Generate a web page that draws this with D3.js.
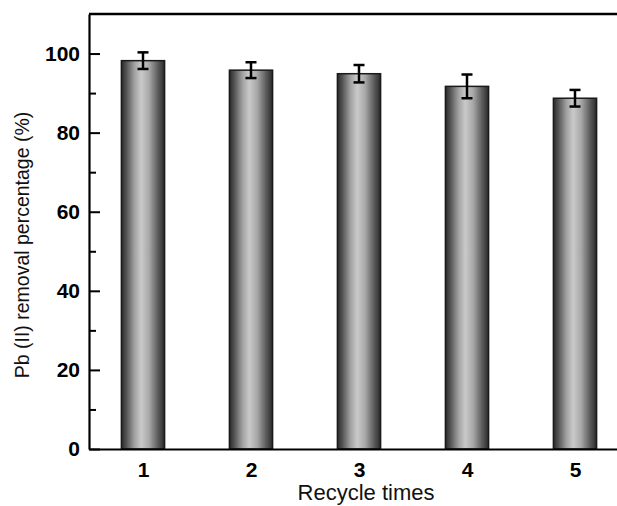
<!DOCTYPE html>
<html>
<head>
<meta charset="utf-8">
<script src="https://cdn.jsdelivr.net/npm/d3@7"></script>
<style>
  body { margin: 0; background: #fff; }
  svg { display: block; font-family: Arial, "Liberation Sans", sans-serif; }
</style>
</head>
<body>
<svg width="617" height="506"></svg>
<script>
// recycle runs and Pb(II) removal (%) with error
const cycles = [1, 2, 3, 4, 5];
const removal = [98.2, 95.8, 94.9, 91.7, 88.7];
const errors = [2.1, 2.0, 2.2, 3.0, 2.1];
const majorTicks = [0, 20, 40, 60, 80, 100];
const minorTicks = [10, 30, 50, 70, 90];

const svg = d3.select("svg");

const x = d3.scaleLinear().domain([0.5, 5.5]).range([89, 629]);
const y = d3.scaleLinear().domain([0, 110]).range([449, 14]);
const barW = x(1.2) - x(0.8);

// cylinder-like grey shading for bars
const grad = svg.append("defs").append("linearGradient")
    .attr("id", "barGrad")
    .attr("x1", "0%").attr("x2", "100%").attr("y1", "0%").attr("y2", "0%");
[["0%", "#2a2a2a"], ["12%", "#555"], ["30%", "#a0a0a0"], ["46%", "#cacaca"],
 ["64%", "#a8a8a8"], ["86%", "#585858"], ["100%", "#2a2a2a"]]
    .forEach(s => grad.append("stop").attr("offset", s[0]).attr("stop-color", s[1]));

const data = cycles.map((c, i) => ({ c: c, v: removal[i], e: errors[i] }));

// bars
svg.selectAll("rect.bar")
    .data(data)
    .enter()
    .append("rect")
    .attr("class", "bar")
    .attr("x", d => x(d.c) - barW / 2)
    .attr("width", barW)
    .attr("y", d => y(d.v))
    .attr("height", d => y(0) - y(d.v))
    .attr("fill", "url(#barGrad)")
    .attr("stroke", "#1a1a1a")
    .attr("stroke-width", 1.5);

// error bars
const eb = svg.selectAll("g.err")
    .data(data)
    .enter()
    .append("g")
    .attr("class", "err")
    .attr("stroke", "#000")
    .attr("stroke-width", 2.5);
eb.append("line")
    .attr("x1", d => x(d.c)).attr("x2", d => x(d.c))
    .attr("y1", d => y(d.v + d.e)).attr("y2", d => y(d.v - d.e));
eb.append("line")
    .attr("x1", d => x(d.c) - 5.5).attr("x2", d => x(d.c) + 5.5)
    .attr("y1", d => y(d.v + d.e)).attr("y2", d => y(d.v + d.e));
eb.append("line")
    .attr("x1", d => x(d.c) - 5.5).attr("x2", d => x(d.c) + 5.5)
    .attr("y1", d => y(d.v - d.e)).attr("y2", d => y(d.v - d.e));

// minor ticks (inward)
svg.append("g")
    .attr("transform", "translate(" + x(0.5) + ",0)")
    .call(d3.axisLeft(y).tickValues(minorTicks).tickSize(-7).tickSizeOuter(0).tickFormat(""))
    .call(g => g.select(".domain").remove())
    .selectAll("line").attr("stroke", "#000").attr("stroke-width", 2);

// left axis with major ticks
const yAxis = svg.append("g")
    .attr("transform", "translate(" + x(0.5) + ",0)")
    .call(d3.axisLeft(y).tickValues(majorTicks).tickSize(-11).tickSizeOuter(0).tickPadding(9));
yAxis.select(".domain").attr("stroke", "#000").attr("stroke-width", 2.2);
yAxis.selectAll("line").attr("stroke", "#000").attr("stroke-width", 2);
yAxis.selectAll("text")
    .attr("font-size", 21)
    .attr("font-weight", "bold")
    .attr("font-family", "Arial, 'Liberation Sans', sans-serif")
    .attr("fill", "#000");

// bottom axis, no ticks
const xAxis = svg.append("g")
    .attr("transform", "translate(0," + y(0) + ")")
    .call(d3.axisBottom(x).tickValues(cycles).tickSize(0).tickPadding(13).tickFormat(d3.format("d")));
xAxis.select(".domain").attr("stroke", "#000").attr("stroke-width", 2.2);
xAxis.selectAll("text")
    .attr("font-size", 21)
    .attr("font-weight", "bold")
    .attr("font-family", "Arial, 'Liberation Sans', sans-serif")
    .attr("fill", "#000");

// top and right frame
svg.append("line")
    .attr("x1", x(0.5)).attr("x2", x(5.5))
    .attr("y1", y(110)).attr("y2", y(110))
    .attr("stroke", "#000").attr("stroke-width", 2.6);
svg.append("line")
    .attr("x1", x(5.5)).attr("x2", x(5.5))
    .attr("y1", y(110)).attr("y2", y(0))
    .attr("stroke", "#000").attr("stroke-width", 2.2);

// axis titles
svg.append("text")
    .attr("x", 366)
    .attr("y", 500)
    .attr("text-anchor", "middle")
    .attr("font-size", 22)
    .attr("fill", "#111")
    .text("Recycle times");

svg.append("text")
    .attr("transform", "rotate(-90)")
    .attr("x", -245)
    .attr("y", 29)
    .attr("text-anchor", "middle")
    .attr("font-size", 19.5)
    .attr("fill", "#111")
    .text("Pb (II) removal percentage (%)");
</script>
</body>
</html>
